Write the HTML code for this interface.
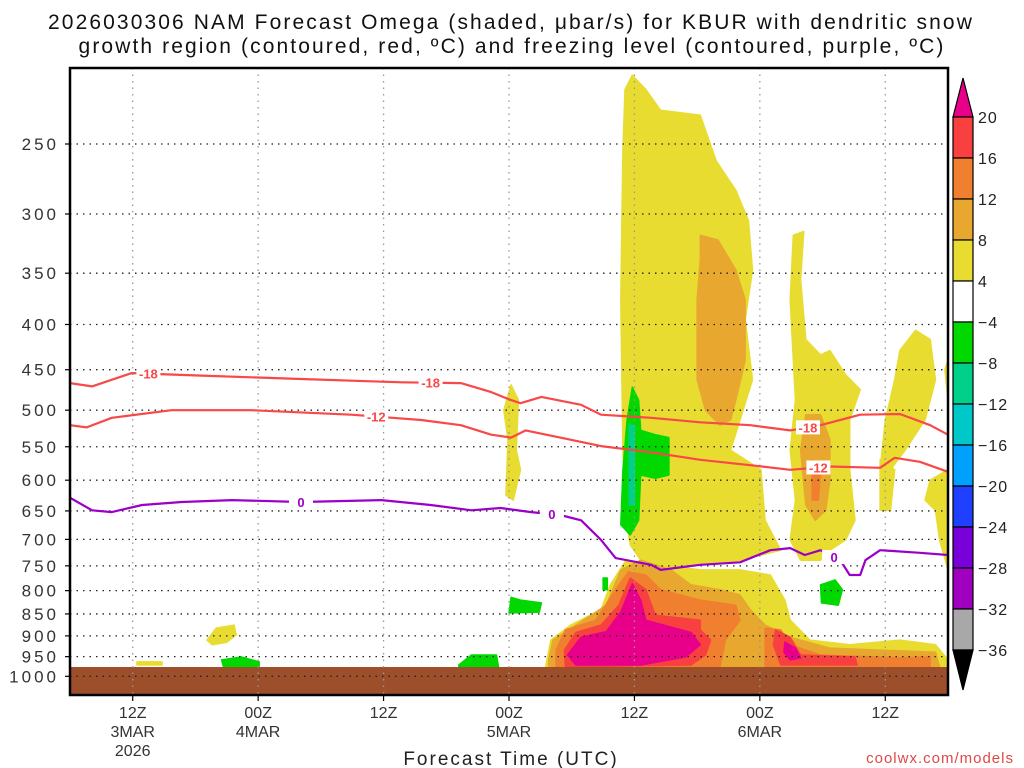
<!DOCTYPE html>
<html><head><meta charset="utf-8"><style>
html,body{margin:0;padding:0;background:#fff;}
svg{display:block;font-family:"Liberation Sans",sans-serif;}
</style></head><body>
<svg id="chart" width="1024" height="768" viewBox="0 0 1024 768"></svg>
<script>
// ---- data ----
const hourTicks = [6, 18, 30, 42, 54, 66, 78];
const hourTickLines1 = ["12Z","00Z","12Z","00Z","12Z","00Z","12Z"];
const hourTickLines2 = ["3MAR","4MAR","","5MAR","","6MAR",""];
const hourTickLines3 = ["2026","","","","","",""];
const pressureTicks = [250,300,350,400,450,500,550,600,650,700,750,800,850,900,950,1000];
const levelLabels = ["20","16","12","8","4","\u22124","\u22128","\u221212","\u221216","\u221220","\u221224","\u221228","\u221232","\u221236"];
const levelColors = ["#f84040","#f08030","#e8a830","#e8dc30","#ffffff","#00d800","#00d08a","#00c8c8","#00a0ff","#2040ff","#7800d8","#a000c0","#a8a8a8"];

const contour18Hours = [0,2.1,5.9,12.6,22.1,31.7,37.4,40.3,42.2,43.1,45.1,48.9,50.8,55.6,60.3,65.1,68.9,71.8,75.6,79.4,82.3,84];
const contour18Press = [466,470,454,457,461,465,466,477,487,491,483,493,506,510,516,520,527,520,506,505,520,533];
const contour12Hours = [0,1.6,4.0,9.7,17.4,26.9,33.6,37.4,40.3,42.2,43.6,46.9,50.8,55.6,60.3,65.1,68.9,72.7,77.5,78.9,81.3,84];
const contour12Press = [520,523,510,500,500,506,513,520,533,537,527,537,549,558,569,577,584,579,581,566,572,587];
const contour0Hours = [0,2.1,4.0,6.9,10.7,15.5,22.1,29.8,34.5,38.4,41.2,44.1,46.9,48.9,50.8,52.2,55.6,56.5,60.3,64.1,67.0,68.9,70.3,71.8,73.7,74.6,75.6,76.1,77.5,81.3,84];
const contour0Press = [628,649,652,640,635,632,635,632,640,649,645,652,657,666,701,735,748,758,748,743,720,716,729,720,739,768,768,739,720,725,729];
const labels18Hours = [7.5, 34.5, 70.6];
const labels12Hours = [29.3, 71.6];
const labels0Hours = [22.1, 46.1, 73.1];

const yellowRegions = [
 [[53.8,209],[55.1,217],[56.5,229],[60.3,232],[61.8,261],[63.7,282],[64.9,305],[65.3,347],[64.6,395],[65.3,462],[64.1,513],[63.2,555],[66.1,584],[66.5,666],[68.0,720],[64.1,739],[60.3,748],[56.5,758],[54.6,739],[53.6,710],[53.2,666],[52.9,555],[52.7,375],[52.9,254],[53.1,217]],
 [[45.5,976],[46.0,910],[47.9,875],[50.8,841],[51.7,788],[53.2,739],[56.5,748],[60.3,758],[64.1,758],[67.0,768],[68.4,820],[68.9,864],[70.8,910],[74.6,921],[79.4,910],[82.8,921],[84,958],[84,976]],
 [[69.2,317],[70.2,314],[69.9,356],[70.4,416],[71.8,433],[72.7,428],[74.2,456],[75.6,474],[74.6,513],[74.6,584],[75.1,666],[74.2,701],[72.7,720],[71.8,739],[69.9,739],[68.9,701],[69.4,632],[68.9,555],[69.4,487],[68.9,375]],
 [[79.4,428],[80.9,406],[82.3,416],[82.8,462],[81.8,513],[79.9,555],[78.5,584],[77.5,584],[78.0,513],[78.9,462]],
 [[77.5,569],[78.9,584],[78.5,649],[77.5,649]],
 [[82.3,600],[84,584],[84,758],[83.2,701],[82.8,649],[81.8,632]],
 [[83.7,450],[84,439],[84,487]],
 [[42.2,468],[42.9,487],[42.7,555],[43.1,584],[42.4,632],[41.7,624],[41.9,540],[41.5,500]],
 [[13.1,910],[14.0,882],[15.7,875],[15.9,898],[15.0,915],[13.6,921]],
 [[6.4,963],[8.8,963],[8.8,971],[6.4,971]]
];
const lightOrangeRegions = [
 [[45.8,958],[46.2,910],[48.4,875],[51.3,831],[52.7,758],[54.6,739],[57.5,758],[59.4,788],[62.2,798],[64.1,809],[65.1,841],[66.5,875],[68.9,903],[72.7,929],[77.5,934],[82.8,939],[83.2,976],[45.8,976]],
 [[60.3,317],[62.0,321],[63.7,347],[64.6,375],[64.6,439],[63.7,487],[63.2,513],[62.2,520],[60.8,500],[60.0,462],[60.0,375],[60.3,338]],
 [[70.4,506],[71.8,506],[72.7,540],[72.7,600],[72.3,649],[71.3,666],[70.4,640],[69.9,555]]
];
const orangeRegions = [
 [[46.5,934],[47.4,886],[50.3,864],[52.2,798],[53.4,762],[55.1,768],[56.5,798],[60.3,820],[63.7,831],[64.1,864],[62.7,910],[62.2,976],[46.5,976]],
 [[66.5,882],[68.0,886],[68.9,921],[71.8,946],[79.4,953],[82.3,951],[82.3,976],[66.5,976]],
 [[71.0,569],[71.8,584],[71.6,632],[71.0,632]]
];
const redRegions = [
 [[47.3,934],[48.4,892],[50.8,875],[52.5,831],[53.6,774],[55.1,798],[56.0,853],[60.3,864],[60.3,886],[61.3,910],[60.8,946],[59.4,971],[47.4,976]],
 [[67.5,886],[68.9,903],[69.9,946],[75.1,951],[75.3,971],[68.0,971],[67.3,921]]
];
const magentaRegions = [
 [[47.6,946],[48.9,903],[51.3,890],[52.7,846],[53.8,786],[54.6,820],[55.1,864],[59.4,892],[60.3,921],[58.9,951],[54.6,971],[48.4,971]],
 [[68.4,915],[69.4,929],[69.9,953],[68.9,958],[68.3,939]]
];
const greenRegions = [
 [[53.8,471],[54.4,487],[54.6,527],[56.0,533],[57.3,537],[57.3,592],[56.0,597],[54.6,592],[54.4,666],[53.6,692],[52.7,674],[52.9,584],[53.3,513]],
 [[42.2,814],[43.1,820],[45.1,826],[44.9,846],[42.0,848]],
 [[14.5,958],[16.4,951],[18.1,963],[18.1,976],[14.7,976]],
 [[37.2,971],[38.4,946],[40.8,946],[41.0,976],[37.2,976]],
 [[71.8,788],[73.2,778],[73.9,798],[73.5,831],[71.9,826]],
 [[51.0,774],[51.4,774],[51.4,798],[51.0,798]]
];
const tealRegions = [
 [[53.5,520],[54.0,520],[54.0,640],[53.5,640]]
];
const groundPressure = 976;

// ---- axes ----
const X0=70, X1=948, Y0=68, Y1=695, H0=0, H1=84;
const PREF=250, YREF=144, PSCALE=384;
function xs(h){ return X0 + (h-H0)/(H1-H0)*(X1-X0); }
function ys(p){ return YREF + PSCALE*Math.log(p/PREF); }

const NS="http://www.w3.org/2000/svg";
const svg=document.getElementById('chart');
function mk(tag, attrs, parent){
  const e=document.createElementNS(NS,tag);
  for(const k in attrs) e.setAttribute(k, attrs[k]);
  (parent||svg).appendChild(e); return e;
}
function interp(hs, ps, h){
  for(let i=0;i<hs.length-1;i++){ if(h>=hs[i]&&h<=hs[i+1]){ const t=(h-hs[i])/(hs[i+1]-hs[i]); return ps[i]+t*(ps[i+1]-ps[i]); } }
  return ps[ps.length-1];
}

// title
const t1=mk('text',{x:511,y:29,'text-anchor':'middle','font-size':21,fill:'#111','letter-spacing':2.1});


t1.textContent='2026030306 NAM Forecast Omega (shaded, \u03bcbar/s) for KBUR with dendritic snow';
const t2=mk('text',{x:512,y:53,'text-anchor':'middle','font-size':21,fill:'#111','letter-spacing':2.1});


t2.textContent='growth region (contoured, red, \u00baC) and freezing level (contoured, purple, \u00baC)';

const defs=mk('defs',{});
const cp=mk('clipPath',{id:'plotclip'},defs);
mk('rect',{x:X0,y:Y0,width:X1-X0,height:Y1-Y0},cp);
const plot=mk('g',{'clip-path':'url(#plotclip)'});



function drawRegions(list, color, name){
  list.forEach((poly,i)=>{
    const pts=poly.map(v=>xs(v[0]).toFixed(1)+','+ys(v[1]).toFixed(1)).join(' ');
    const e=mk('polygon',{points:pts,fill:color,stroke:color,'stroke-width':1.5,'stroke-linejoin':'round'},plot);
    
    
  });
}
drawRegions(yellowRegions, levelColors[3], 'omega-4-8');
drawRegions(lightOrangeRegions, levelColors[2], 'omega-8-12');
drawRegions(orangeRegions, levelColors[1], 'omega-12-16');
drawRegions(redRegions, levelColors[0], 'omega-16-20');
drawRegions(magentaRegions, '#e8008a', 'omega-over-20');
drawRegions(greenRegions, levelColors[5], 'omega-minus4-minus8');
drawRegions(tealRegions, levelColors[6], 'omega-minus8-minus12');

const gy=ys(groundPressure);
const gr=mk('rect',{x:X0,y:gy,width:X1-X0,height:Y1-gy,fill:'#9c4f2a'},plot);



pressureTicks.forEach(p=>{
  const g=mk('line',{x1:X0,x2:X1,y1:ys(p),y2:ys(p),stroke:'#222','stroke-width':1.3,'stroke-dasharray':'1.5 5'},plot);
  
  
});
hourTicks.forEach(h=>{
  const g=mk('line',{x1:xs(h),x2:xs(h),y1:Y0,y2:Y1,stroke:'#999','stroke-width':1.3,'stroke-dasharray':'1.5 5'},plot);
  
  
});

function drawContour(hs, ps, color, name){
  const d=hs.map((h,i)=>(i?'L':'M')+xs(h).toFixed(1)+','+ys(ps[i]).toFixed(1)).join(' ');
  const e=mk('path',{d:d,fill:'none',stroke:color,'stroke-width':2.2,'stroke-linejoin':'round'},plot);
  
  
}
function drawLabels(hs, ps, lh, txt, color, name){
  lh.forEach((h,i)=>{
    const x=xs(h), y=ys(interp(hs,ps,h));
    const r=mk('rect',{x:x-12,y:y-7,width:24,height:14,fill:'#fff'},plot);
    
    
    const t=mk('text',{x:x,y:y+5,'text-anchor':'middle','font-size':13,'font-weight':'bold',fill:color},plot);
    
    
    t.textContent=txt;
  });
}
drawContour(contour18Hours, contour18Press, '#f84848', 'contour-minus18');
drawContour(contour12Hours, contour12Press, '#f84848', 'contour-minus12');
drawContour(contour0Hours, contour0Press, '#9a00c8', 'contour-freezing');
drawLabels(contour18Hours, contour18Press, labels18Hours, '-18', '#f84848', 'label-minus18');
drawLabels(contour12Hours, contour12Press, labels12Hours, '-12', '#f84848', 'label-minus12');
drawLabels(contour0Hours, contour0Press, labels0Hours, '0', '#9a00c8', 'label-freezing');

const fr=mk('rect',{x:X0,y:Y0,width:X1-X0,height:Y1-Y0,fill:'none',stroke:'#000','stroke-width':2.5});



pressureTicks.forEach(p=>{
  const y=ys(p);
  const tk=mk('line',{x1:X0-5,x2:X0,y1:y,y2:y,stroke:'#000','stroke-width':1.2});
  
  
  const t=mk('text',{x:X0-11,y:y+6,'text-anchor':'end','font-size':17,fill:'#333','letter-spacing':3});
  
  
  t.textContent=p;
});
hourTicks.forEach((h,i)=>{
  const x=xs(h);
  const tk=mk('line',{x1:x,x2:x,y1:Y1,y2:Y1+6,stroke:'#000','stroke-width':1.2});
  
  
  [hourTickLines1[i],hourTickLines2[i],hourTickLines3[i]].forEach((s,j)=>{
    if(!s) return;
    const t=mk('text',{x:x,y:718+j*19,'text-anchor':'middle','font-size':16,fill:'#333'});
    
    
    t.textContent=s;
  });
});
const xt=mk('text',{x:511,y:765,'text-anchor':'middle','font-size':19,fill:'#222','letter-spacing':2});


xt.textContent='Forecast Time (UTC)';
const cr=mk('text',{x:1014,y:763,'text-anchor':'end','font-size':15,fill:'#e04848','letter-spacing':1});


cr.textContent='coolwx.com/models';

const CBX=953, CBW=20, CBT=117, CBS=41;
const cb=mk('g',{});


const topTri=mk('polygon',{points:`${CBX},${CBT} ${CBX+CBW},${CBT} ${CBX+CBW/2},78`,fill:'#e8008a',stroke:'#000','stroke-width':1.2},cb);


levelColors.forEach((c,i)=>{
  const r=mk('rect',{x:CBX,y:CBT+i*CBS,width:CBW,height:CBS,fill:c,stroke:'#000','stroke-width':1.2},cb);
  
  
});
const botY=CBT+levelColors.length*CBS;
const botTri=mk('polygon',{points:`${CBX},${botY} ${CBX+CBW},${botY} ${CBX+CBW/2},690`,fill:'#000',stroke:'#000','stroke-width':1.2},cb);


levelLabels.forEach((s,i)=>{
  const t=mk('text',{x:978,y:CBT+i*CBS+6,'font-size':16,fill:'#222','letter-spacing':1},cb);
  
  
  t.textContent=s;
});
</script>
</body></html>
